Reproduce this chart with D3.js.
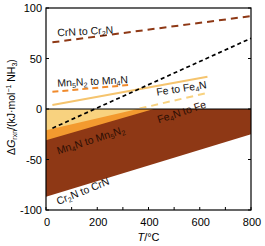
<!DOCTYPE html>
<html>
<head>
<meta charset="utf-8">
<script src="https://cdn.jsdelivr.net/npm/d3@7"></script>
<style>
  body { margin: 0; background: #fff; }
  text { font-family: "Liberation Sans", Arial, sans-serif; }
</style>
</head>
<body>
<div id="chart"></div>
<script>
var svgWidth = 265;
var svgHeight = 246;

var margin = { top: 8, right: 14, bottom: 36, left: 46 };

var width = svgWidth - margin.left - margin.right;
var height = svgHeight - margin.top - margin.bottom;

// data: [T (°C), dG (kJ/mol NH3)]
var crToCr2N = [[25, 66], [800, 92]];
var ammonia = [[25, -19], [800, 70]];
var mn5N2ToMn4N = [[25, 17], [330, 24]];
var feToFe4N = [[25, 4], [630, 32]];
var fe4NToFe = [[0, -21], [630, 16]];
var mn4NToMn5N2 = [[0, -31], [800, 28]];
var cr2NToCrN = [[0, -87], [800, -25]];

var xTicks = [0, 200, 400, 600, 800];
var xMinor = [100, 300, 500, 700];
var yTicks = [-100, -50, 0, 50, 100];

var svg = d3.select("#chart")
    .append("svg")
    .attr("width", svgWidth)
    .attr("height", svgHeight);

var chart = svg.append("g")
    .attr("transform", `translate(${margin.left}, ${margin.top})`);

var xScale = d3.scaleLinear().domain([0, 800]).range([0, width]);
var yScale = d3.scaleLinear().domain([-100, 100]).range([height, 0]);

// only show the negative part of the filled areas
chart.append("clipPath")
    .attr("id", "below")
    .append("rect")
    .attr("x", 0)
    .attr("y", yScale(0))
    .attr("width", width)
    .attr("height", height - yScale(0));

var area = d3.area()
    .x(d => xScale(d[0]))
    .y0(yScale(0))
    .y1(d => yScale(d[1]));

var fills = [
    { data: cr2NToCrN, color: "#8e3815" },
    { data: mn4NToMn5N2, color: "#f39a2f" },
    { data: fe4NToFe, color: "#f8d27f" }
];

chart.append("g")
    .attr("clip-path", "url(#below)")
    .selectAll("path")
    .data(fills)
    .enter()
    .append("path")
    .attr("d", d => area(d.data))
    .attr("fill", d => d.color);

// zero line
chart.append("line")
    .attr("x1", 0)
    .attr("x2", width)
    .attr("y1", yScale(0))
    .attr("y2", yScale(0))
    .attr("stroke", "#000")
    .attr("stroke-width", 1);

var line = d3.line()
    .x(d => xScale(d[0]))
    .y(d => yScale(d[1]));

// dashed Fe4N to Fe above zero only
chart.append("clipPath")
    .attr("id", "above")
    .append("rect")
    .attr("x", 0)
    .attr("y", 0)
    .attr("width", width)
    .attr("height", yScale(0) - 1);

var lines = [
    { data: crToCr2N, color: "#8e3815", dash: "7,5", w: 2 },
    { data: mn5N2ToMn4N, color: "#f08a2c", dash: "6,4", w: 2 },
    { data: feToFe4N, color: "#f5c46e", dash: null, w: 2 },
    { data: fe4NToFe, color: "#f8d27f", dash: "7,5", w: 2, clip: true },
    { data: ammonia, color: "#000", dash: "4,3", w: 1.7 }
];

lines.forEach(function (l) {
    chart.append("path")
        .attr("d", line(l.data))
        .attr("fill", "none")
        .attr("stroke", l.color)
        .attr("stroke-width", l.w)
        .attr("stroke-dasharray", l.dash)
        .attr("clip-path", l.clip ? "url(#above)" : null);
});

// frame
chart.append("rect")
    .attr("width", width)
    .attr("height", height)
    .attr("fill", "none")
    .attr("stroke", "#000")
    .attr("stroke-width", 1.2);

// inward ticks
var tickG = chart.append("g").attr("stroke", "#000").attr("stroke-width", 1);
xTicks.concat(xMinor).forEach(function (t) {
    tickG.append("line")
        .attr("x1", xScale(t)).attr("x2", xScale(t))
        .attr("y1", height).attr("y2", height - 3);
});
yTicks.forEach(function (t) {
    tickG.append("line")
        .attr("x1", 0).attr("x2", 3)
        .attr("y1", yScale(t)).attr("y2", yScale(t));
    tickG.append("line")
        .attr("x1", width).attr("x2", width - 3)
        .attr("y1", yScale(t)).attr("y2", yScale(t));
});

chart.selectAll(".xlab")
    .data(xTicks)
    .enter()
    .append("text")
    .attr("x", d => xScale(d) + 1)
    .attr("y", height + 16)
    .attr("text-anchor", "middle")
    .attr("font-size", "11px")
    .text(d => d);

chart.selectAll(".ylab")
    .data(yTicks)
    .enter()
    .append("text")
    .attr("x", -4)
    .attr("y", d => yScale(d) + 4)
    .attr("text-anchor", "end")
    .attr("font-size", "11px")
    .text(d => d < 0 ? "-" + Math.abs(d) : d);

// axis titles
var xTitle = chart.append("text")
    .attr("x", width / 2)
    .attr("y", height + 31)
    .attr("text-anchor", "middle")
    .attr("font-size", "11px");
xTitle.append("tspan").attr("font-style", "italic").text("T");
xTitle.append("tspan").text("/°C");

var yTitle = chart.append("text")
    .attr("transform", `translate(${-31}, ${height / 2 - 2}) rotate(-90)`)
    .attr("text-anchor", "middle")
    .attr("font-size", "10.5px");
yTitle.append("tspan").text("Δ");
yTitle.append("tspan").attr("font-style", "italic").text("G");
yTitle.append("tspan").attr("font-size", "7px").attr("dy", 2).text("rxn");
yTitle.append("tspan").attr("dy", -2).text("/(kJ·mol");
yTitle.append("tspan").attr("font-size", "7px").attr("dy", -4).text("−1");
yTitle.append("tspan").attr("dy", 4).text(" NH");
yTitle.append("tspan").attr("font-size", "7px").attr("dy", 2).text("3");
yTitle.append("tspan").attr("dy", -2).text(")");

// annotations; strings are normal text, arrays hold a subscript
function label(parts, t, v, angle, color) {
    var txt = chart.append("text")
        .attr("transform", `translate(${xScale(t)}, ${yScale(v)}) rotate(${angle})`)
        .attr("font-size", "10.5px")
        .attr("fill", color);
    var shifted = false;
    parts.forEach(function (p) {
        if (Array.isArray(p)) {
            txt.append("tspan").attr("font-size", "7px").attr("dy", 2).text(p[0]);
            shifted = true;
        } else {
            txt.append("tspan").attr("dy", shifted ? -2 : 0).text(p);
            shifted = false;
        }
    });
}

label(["CrN to Cr", ["2"], "N"], 45, 72, -3, "#111");
label(["Mn", ["5"], "N", ["2"], " to Mn", ["4"], "N"], 45, 22, -3, "#111");
label(["Fe to Fe", ["4"], "N"], 433, 13, -9, "#111");
label(["Fe", ["4"], "N to Fe"], 440, -14, -18, "#2a0e04");
label(["Mn", ["4"], "N to Mn", ["5"], "N", ["2"]], 48, -45, -18, "#2a0e04");
label(["Cr", ["2"], "N to CrN"], 48, -95, -22, "#111");
</script>
</body>
</html>
